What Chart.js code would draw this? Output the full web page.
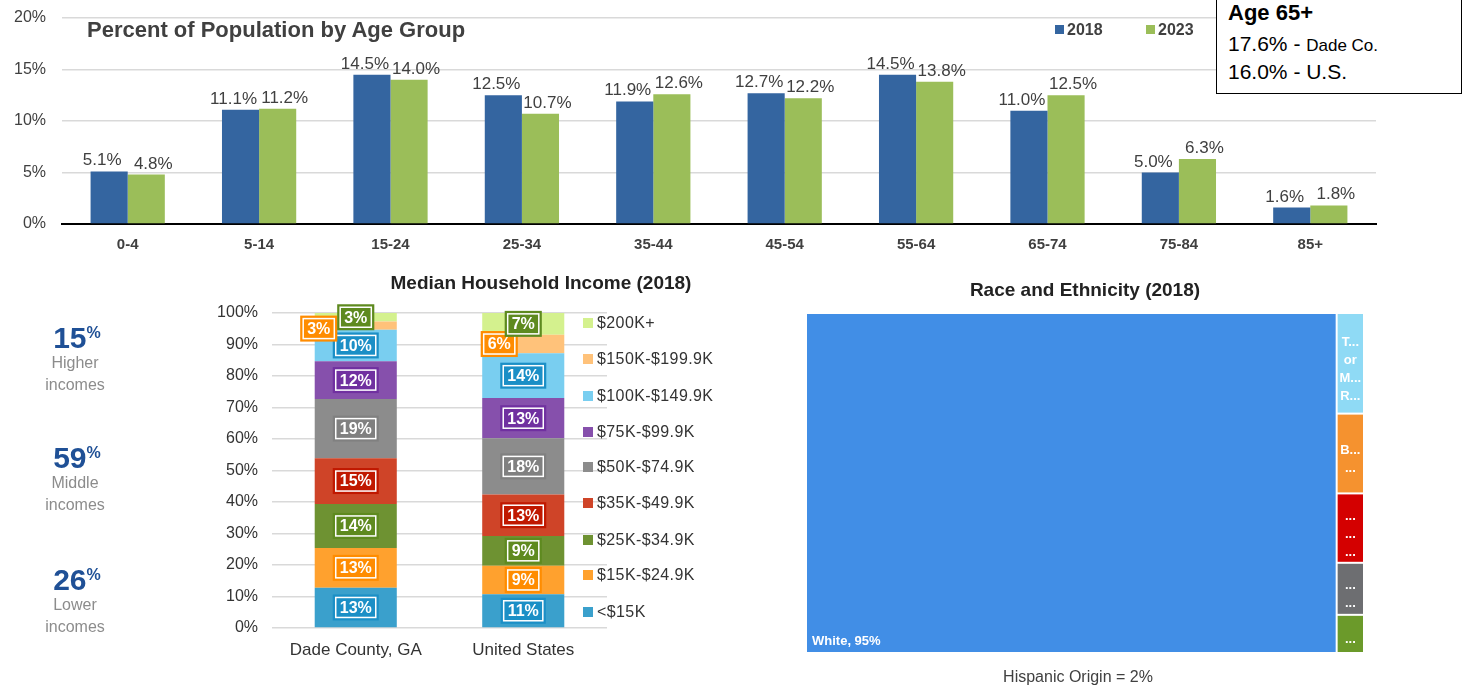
<!DOCTYPE html>
<html><head><meta charset="utf-8">
<script src="https://cdn.jsdelivr.net/npm/chart.js@4.4.1/dist/chart.umd.min.js"></script>
<style>
html,body{margin:0;padding:0;background:#fff;width:1470px;height:688px;overflow:hidden;font-family:"Liberation Sans",Arial,sans-serif;}
canvas{position:absolute;}
.t{position:absolute;white-space:nowrap;}
</style></head><body>
<canvas id="ageChart" width="1470" height="260" style="left:0;top:0"></canvas>
<canvas id="incomeChart" width="620" height="380" style="left:0;top:290px"></canvas>
<canvas id="raceChart" width="600" height="370" style="left:790px;top:300px"></canvas>
<div id="overlay"></div>
<script>
// ---------------- DATA ----------------
const ageGroups = ['0-4','5-14','15-24','25-34','35-44','45-54','55-64','65-74','75-84','85+'];
const pop2018 = [5.1, 11.1, 14.5, 12.5, 11.9, 12.7, 14.5, 11.0, 5.0, 1.6];
const pop2023 = [4.8, 11.2, 14.0, 10.7, 12.6, 12.2, 13.8, 12.5, 6.3, 1.8];
const ageSeries = ['2018', '2023'];
const age65Lines = ['Age 65+', '17.6% - ', 'Dade Co.', '16.0% - U.S.'];

const incomePlaces = ['Dade County, GA', 'United States'];
const incomeBrackets = ['<$15K','$15K-$24.9K','$25K-$34.9K','$35K-$49.9K','$50K-$74.9K','$75K-$99.9K','$100K-$149.9K','$150K-$199.9K','$200K+'];
const incomeDade = [12.8, 12.6, 14.0, 14.5, 18.8, 12.0, 10.0, 2.6, 2.7];
const incomeUS   = [10.7, 9.1, 9.4, 13.2, 17.8, 12.8, 14.2, 5.9, 6.9];
const incomeTierShares = [15, 59, 26];
const incomeTierNames = [['Higher','incomes'], ['Middle','incomes'], ['Lower','incomes']];

const raceNames = ['White','Two or More Races','Black','Asian','Some Other Race','American Indian'];
const raceValues = [95.1, 1.45, 1.15, 1.0, 0.75, 0.55];
const raceLabelLines = [['White, 95%'], ['T...','or','M...','R...'], ['B...','...'], ['...','...','...'], ['...','...'], ['...']];
const hispanicNote = 'Hispanic Origin = 2%';

// ---------------- STYLES ----------------
const FONT = '"Liberation Sans", Arial, sans-serif';
Chart.defaults.font.family = FONT;
Chart.defaults.color = '#404040';
const ageColors = ['#3465a0', '#9bbe59'];
const incomeColors = ['#3aa0cc','#ffa12e','#6e9232','#cf4428','#8c8c8c','#8650ac','#79cef0','#ffc27a','#d4f18e'];
const incomeBoxColors = ['#1b8fc6','#ff8c00','#5e8a1f','#c01800','#808080','#7030a0','#1b8fc6','#ff8c00','#5e8a1f'];
const incomeLabelOffsets = {'7-0':[-37,3], '7-1':[-24,0]};
const raceColors = ['#418ee6','#8fdaf5','#f5922f','#d40000','#6d6e71','#6b9a2a'];

// ---------------- AGE CHART ----------------
const valueLabels = {
  id:'valueLabels',
  afterDatasetsDraw(chart, args, opts){
    const ctx = chart.ctx;
    ctx.save();
    ctx.font = '17px ' + FONT;
    ctx.fillStyle = '#404040';
    ctx.textAlign = 'center';
    ctx.textBaseline = 'alphabetic';
    chart.data.datasets.forEach((ds, i) => {
      const meta = chart.getDatasetMeta(i);
      const dx = opts.dx[i];
      meta.data.forEach((el, j) => {
        ctx.fillText(ds.data[j].toFixed(1) + '%', el.x + dx, el.y - 6);
      });
    });
    ctx.restore();
  }
};

new Chart(document.getElementById('ageChart'), {
  type: 'bar',
  data: {
    labels: ageGroups,
    datasets: [
      {label: ageSeries[0], data: pop2018, backgroundColor: ageColors[0], categoryPercentage: 0.565, barPercentage: 1},
      {label: ageSeries[1], data: pop2023, backgroundColor: ageColors[1], categoryPercentage: 0.565, barPercentage: 1}
    ]
  },
  options: {
    responsive: false, animation: false, devicePixelRatio: 1,
    layout: {padding: {top: 18, right: 94, left: 0, bottom: 0}},
    plugins: {legend: {display: false}, tooltip: {enabled: false}, valueLabels: {dx: [-7, 7]}},
    scales: {
      x: {
        grid: {display: false, drawTicks: false},
        border: {display: true, color: '#000', width: 2},
        ticks: {padding: 12, font: {size: 15, weight: 'bold'}, color: '#404040'},
        afterFit: s => { s.height = 36; }
      },
      y: {
        min: 0, max: 20,
        ticks: {stepSize: 5, callback: v => v + '%', padding: 16, font: {size: 16}, color: '#404040'},
        grid: {color: '#d9d9d9', drawTicks: false, lineWidth: 1.5},
        border: {display: false},
        afterFit: s => { s.width = 62; s.paddingTop = 0; s.paddingBottom = 0; }
      }
    }
  },
  plugins: [valueLabels]
});

// ---------------- INCOME CHART ----------------
const boxLabels = {
  id:'boxLabels',
  afterDatasetsDraw(chart, args, opts){
    const ctx = chart.ctx;
    ctx.save();
    ctx.font = 'bold 16px ' + FONT;
    chart.data.datasets.forEach((ds, i) => {
      const meta = chart.getDatasetMeta(i);
      meta.data.forEach((el, j) => {
        const txt = Math.round(ds.data[j]) + '%';
        const off = opts.offsets[i + '-' + j] || [0, 0];
        const cx = el.x + off[0], cy = (el.y + el.base) / 2 + off[1];
        const tw = ctx.measureText(txt).width;
        const bw = tw + 14, bh = 26;
        ctx.fillStyle = opts.boxColors[i];
        ctx.fillRect(cx - bw/2, cy - bh/2, bw, bh);
        ctx.strokeStyle = '#fff'; ctx.lineWidth = 1.5;
        ctx.strokeRect(cx - bw/2 + 3, cy - bh/2 + 3, bw - 6, bh - 6);
        ctx.fillStyle = '#fff'; ctx.textAlign = 'center'; ctx.textBaseline = 'middle';
        ctx.fillText(txt, cx, cy + 1);
      });
    });
    ctx.restore();
  }
};

new Chart(document.getElementById('incomeChart'), {
  type: 'bar',
  data: {
    labels: incomePlaces,
    datasets: incomeBrackets.map((b, i) => ({
      label: b, data: [incomeDade[i], incomeUS[i]], backgroundColor: incomeColors[i],
      categoryPercentage: 1, barPercentage: 0.49
    }))
  },
  options: {
    responsive: false, animation: false, devicePixelRatio: 1,
    layout: {padding: {top: 23, right: 13, left: 0, bottom: 0}},
    plugins: {legend: {display: false}, tooltip: {enabled: false},
      boxLabels: {offsets: incomeLabelOffsets, boxColors: incomeBoxColors}},
    scales: {
      x: {
        stacked: true,
        grid: {display: false, drawTicks: false},
        border: {display: false},
        ticks: {padding: 12, font: {size: 17}, color: '#333'},
        afterFit: s => { s.height = 42; }
      },
      y: {
        stacked: true, min: 0, max: 100,
        ticks: {stepSize: 10, callback: v => v + '%', padding: 14, font: {size: 16}, color: '#333'},
        grid: {color: '#d9d9d9', drawTicks: false, lineWidth: 1.5},
        border: {display: false},
        afterFit: s => { s.width = 272; s.paddingTop = 0; s.paddingBottom = 0; }
      }
    }
  },
  plugins: [boxLabels]
});

// ---------------- RACE TREEMAP ----------------
const treemap = {
  id:'treemap',
  afterDraw(chart, args, opts){
    const {ctx} = chart; const x = chart.scales.x, y = chart.scales.y;
    const vals = opts.values; const total = vals.reduce((a, b) => a + b, 0);
    const w0 = vals[0] / total * 100;
    const rects = [{x0: 0, x1: w0, y0: 0, y1: 100}];
    const rest = total - vals[0]; let yy = 0;
    for (let i = 1; i < vals.length; i++) { const h = vals[i] / rest * 100; rects.push({x0: w0, x1: 100, y0: yy, y1: yy + h}); yy += h; }
    ctx.save();
    rects.forEach((r, i) => {
      const px0 = x.getPixelForValue(r.x0), px1 = x.getPixelForValue(r.x1);
      const py0 = y.getPixelForValue(r.y0), py1 = y.getPixelForValue(r.y1);
      ctx.fillStyle = opts.colors[i];
      ctx.fillRect(px0 + 1, py0 + 1, px1 - px0 - 2, py1 - py0 - 2);
      ctx.fillStyle = '#fff';
      const lines = opts.lines[i];
      if (i === 0) {
        ctx.font = 'bold 13px ' + FONT; ctx.textAlign = 'left'; ctx.textBaseline = 'alphabetic';
        ctx.fillText(lines[0], px0 + 6, py1 - 8);
      } else {
        ctx.font = 'bold 13px ' + FONT; ctx.textAlign = 'center'; ctx.textBaseline = 'middle';
        const lh = 18; const cy = (py0 + py1) / 2 + 6 - (lines.length - 1) * lh / 2;
        lines.forEach((t, k) => ctx.fillText(t, (px0 + px1) / 2, cy + k * lh));
      }
    });
    ctx.restore();
  }
};

new Chart(document.getElementById('raceChart'), {
  type: 'scatter',
  data: {datasets: []},
  options: {
    responsive: false, animation: false, devicePixelRatio: 1,
    layout: {padding: {top: 13, right: 26, left: 16, bottom: 17}},
    plugins: {legend: {display: false}, tooltip: {enabled: false},
      treemap: {values: raceValues, colors: raceColors, lines: raceLabelLines}},
    scales: {
      x: {type: 'linear', min: 0, max: 100, display: false},
      y: {type: 'linear', min: 0, max: 100, reverse: true, display: false}
    }
  },
  plugins: [treemap]
});

// ---------------- TEXT OVERLAYS ----------------
const ov = document.getElementById('overlay');
function addText(html, style){ const d = document.createElement('div'); d.className = 't'; d.innerHTML = html; Object.assign(d.style, style); ov.appendChild(d); return d; }
function centered(html, cx, cy, font, color, w){ w = w || 300; return addText(html, {font: font, left: (cx - w/2) + 'px', top: (cy - 15) + 'px', width: w + 'px', height: '30px', lineHeight: '30px', textAlign: 'center', color: color}); }

// top chart title + legend
addText('Percent of Population by Age Group', {font: 'bold 22px ' + FONT, left: '87px', top: '15px', color: '#404040', lineHeight: '30px'});
ageSeries.forEach((s, i) => {
  const lx = [1055, 1146][i];
  addText('', {left: lx + 'px', top: '25px', width: '9px', height: '9px', background: ageColors[i]});
  addText(s, {font: 'bold 16px ' + FONT, left: (lx + 12) + 'px', top: '20px', color: '#404040', lineHeight: '20px'});
});
// Age 65+ box
addText('', {left: '1216px', top: '-2px', width: '244px', height: '94px', border: '1.5px solid #000', background: '#fff'});
addText(age65Lines[0], {font: 'bold 22px ' + FONT, left: '1228px', top: '0px', color: '#000', lineHeight: '26px'});
addText(age65Lines[1] + '<span style="font-size:17px">' + age65Lines[2] + '</span>', {font: '21px ' + FONT, left: '1228px', top: '31px', color: '#000', lineHeight: '26px'});
addText(age65Lines[3], {font: '21px ' + FONT, left: '1228px', top: '59px', color: '#000', lineHeight: '26px'});

// income title, tiers, legend
centered('Median Household Income (2018)', 541, 283, 'bold 19px ' + FONT, '#222', 420);
const tierY = [333, 453, 575];
incomeTierShares.forEach((v, i) => {
  centered(v + '<span style="font-size:16px;vertical-align:10px">%</span>', 77, tierY[i], 'bold 30px ' + FONT, '#1f5096', 140);
  centered(incomeTierNames[i][0], 75, tierY[i] + 30, '16px ' + FONT, '#8c8c8c', 140);
  centered(incomeTierNames[i][1], 75, tierY[i] + 52, '16px ' + FONT, '#8c8c8c', 140);
});
const legY = [323, 359, 396, 432, 467, 503, 540, 575, 612];
for (let k = 0; k < incomeBrackets.length; k++) {
  const i = incomeBrackets.length - 1 - k;
  addText('', {left: '583px', top: (legY[k] - 5) + 'px', width: '10px', height: '10px', background: incomeColors[i]});
  addText(incomeBrackets[i], {font: '16px ' + FONT, left: '597px', top: (legY[k] - 10) + 'px', color: '#333', lineHeight: '20px', letterSpacing: '0.4px'});
}

// race title + note
centered('Race and Ethnicity (2018)', 1085, 290, 'bold 19px ' + FONT, '#222', 400);
centered(hispanicNote, 1078, 677, '16px ' + FONT, '#404040', 300);
</script>
</body></html>
